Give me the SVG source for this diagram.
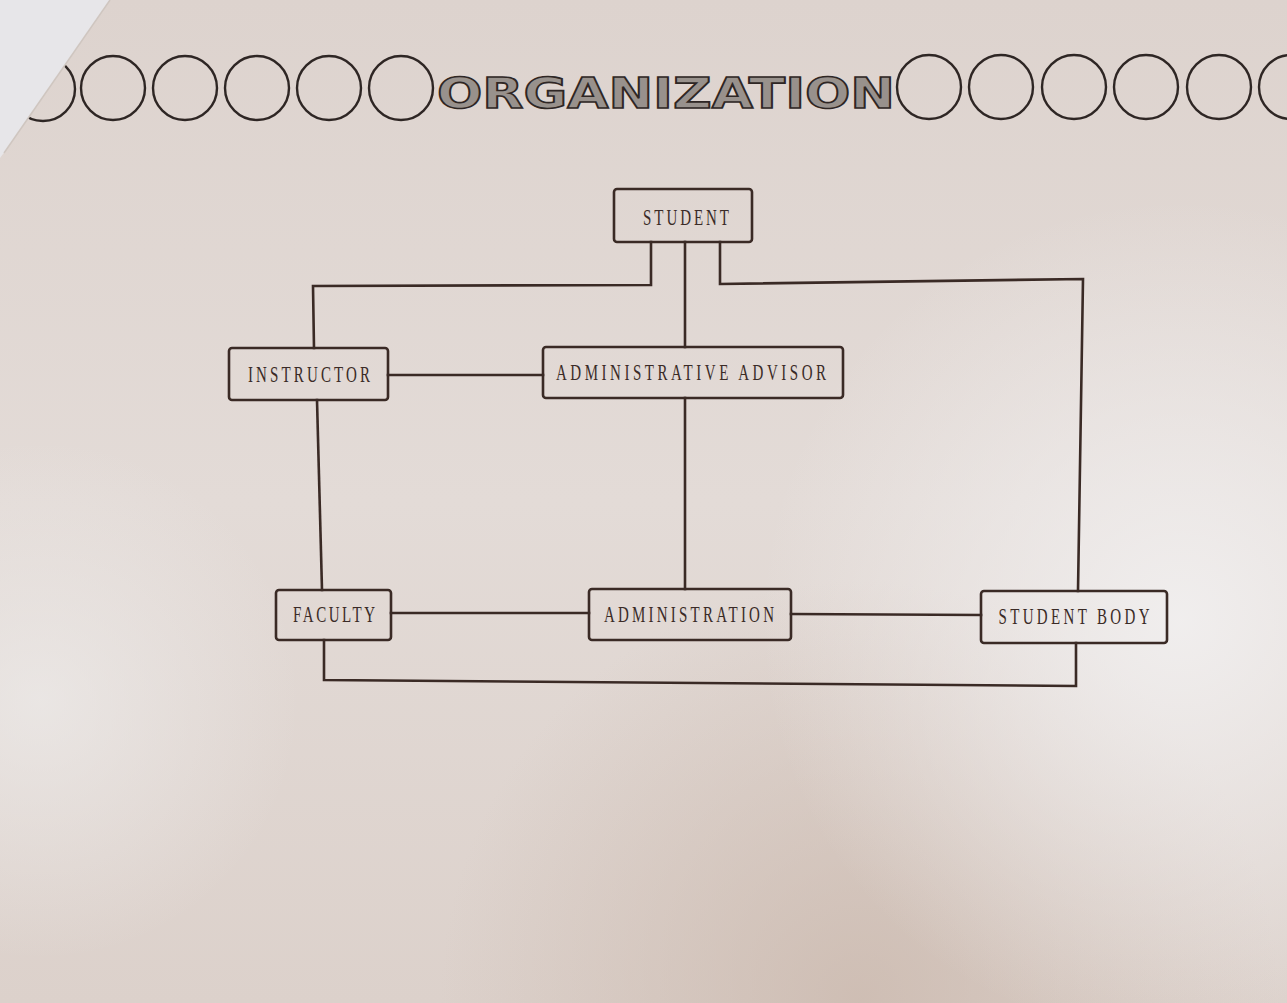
<svg xmlns="http://www.w3.org/2000/svg" width="1287" height="1003" viewBox="0 0 1287 1003">
  <defs>
    <radialGradient id="lightRight" cx="1180" cy="620" r="420" gradientUnits="userSpaceOnUse">
      <stop offset="0" stop-color="#f1efef" stop-opacity="0.95"/>
      <stop offset="1" stop-color="#f1efef" stop-opacity="0"/>
    </radialGradient>
    <radialGradient id="lightLeft" cx="40" cy="700" r="260" gradientUnits="userSpaceOnUse">
      <stop offset="0" stop-color="#eeeceb" stop-opacity="0.7"/>
      <stop offset="1" stop-color="#eeeceb" stop-opacity="0"/>
    </radialGradient>
    <radialGradient id="shadowBottom" cx="860" cy="1000" r="420" gradientUnits="userSpaceOnUse">
      <stop offset="0" stop-color="#cbb9ae" stop-opacity="0.8"/>
      <stop offset="1" stop-color="#cbb9ae" stop-opacity="0"/>
    </radialGradient>
    <linearGradient id="paperTone" x1="0" y1="0" x2="0" y2="1">
      <stop offset="0" stop-color="#ddd3ce"/>
      <stop offset="0.5" stop-color="#e3dbd7"/>
      <stop offset="1" stop-color="#dcd1cb"/>
    </linearGradient>
    <style>
      .ring { fill: none; stroke: #2e2624; stroke-width: 2.4; }
      .box { fill: none; stroke: #3a2a25; stroke-width: 2.6; }
      .label { font-family: "Liberation Serif", "DejaVu Serif", serif; font-size: 20px; fill: #3a2b27; text-anchor: middle; }
      .wire { fill: none; stroke: #3a2a25; stroke-width: 2.6; stroke-linejoin: miter; stroke-linecap: square; }
      .title { font-family: "DejaVu Sans", "Liberation Sans", sans-serif; font-weight: bold; font-size: 43px; fill: #98918c; stroke: #2e2624; stroke-width: 1.6; }
    </style>
  </defs>

  <!-- paper -->
  <rect x="0" y="0" width="1287" height="1003" fill="url(#paperTone)"/>
  <rect x="0" y="0" width="1287" height="1003" fill="url(#shadowBottom)"/>
  <rect x="0" y="0" width="1287" height="1003" fill="url(#lightRight)"/>
  <rect x="0" y="0" width="1287" height="1003" fill="url(#lightLeft)"/>

  <!-- header band: rings and title -->
  <g id="header">
    <circle class="ring" cx="43" cy="89" r="32"/>
    <circle class="ring" cx="113" cy="88" r="32"/>
    <circle class="ring" cx="185" cy="88" r="32"/>
    <circle class="ring" cx="257" cy="88" r="32"/>
    <circle class="ring" cx="329" cy="88" r="32"/>
    <circle class="ring" cx="401" cy="88" r="32"/>
    <text class="title" x="437" y="108" textLength="458" lengthAdjust="spacingAndGlyphs">ORGANIZATION</text>
    <circle class="ring" cx="929" cy="87" r="32"/>
    <circle class="ring" cx="1001" cy="87" r="32"/>
    <circle class="ring" cx="1074" cy="87" r="32"/>
    <circle class="ring" cx="1146" cy="87" r="32"/>
    <circle class="ring" cx="1219" cy="87" r="32"/>
    <circle class="ring" cx="1291" cy="87" r="32"/>
  </g>

  <!-- folded corner of the sheet -->
  <polygon points="0,0 110,0 6,150 0,158" fill="#e7e6e9"/>
  <line x1="110" y1="0" x2="4" y2="153" stroke="#cfc6c0" stroke-width="1.5"/>

  <!-- connectors -->
  <g id="connectors">
    <polyline class="wire" points="651,242 651,285 313,286 314,348"/>
    <polyline class="wire" points="685,242 685,347"/>
    <polyline class="wire" points="720,242 720,284 1083,279 1078,591"/>
    <line class="wire" x1="388" y1="375" x2="543" y2="375"/>
    <line class="wire" x1="317" y1="400" x2="322" y2="590"/>
    <line class="wire" x1="685" y1="398" x2="685" y2="589"/>
    <line class="wire" x1="391" y1="613" x2="589" y2="613"/>
    <line class="wire" x1="791" y1="614" x2="981" y2="615"/>
    <polyline class="wire" points="324,640 324,680 1076,686 1076,643"/>
  </g>

  <!-- nodes: typewriter-style labels, condensed and evenly spaced -->
  <g id="student">
    <rect class="box" x="614" y="189" width="138" height="53" rx="3"/>
    <text class="label" transform="translate(686,225) scale(0.75,1.13)" textLength="114.7" lengthAdjust="spacing">STUDENT</text>
  </g>
  <g id="instructor">
    <rect class="box" x="229" y="348" width="159" height="52" rx="3"/>
    <text class="label" transform="translate(309,382) scale(0.75,1.13)" textLength="162.7" lengthAdjust="spacing">INSTRUCTOR</text>
  </g>
  <g id="administrative-advisor">
    <rect class="box" x="543" y="347" width="300" height="51" rx="3"/>
    <text class="label" transform="translate(691,380) scale(0.75,1.13)" textLength="360" lengthAdjust="spacing">ADMINISTRATIVE ADVISOR</text>
  </g>
  <g id="faculty">
    <rect class="box" x="276" y="590" width="115" height="50" rx="3"/>
    <text class="label" transform="translate(334,622) scale(0.75,1.13)" textLength="109.3" lengthAdjust="spacing">FACULTY</text>
  </g>
  <g id="administration">
    <rect class="box" x="589" y="589" width="202" height="51" rx="3"/>
    <text class="label" transform="translate(689,622) scale(0.75,1.13)" textLength="226.7" lengthAdjust="spacing">ADMINISTRATION</text>
  </g>
  <g id="student-body">
    <rect class="box" x="981" y="591" width="186" height="52" rx="3"/>
    <text class="label" transform="translate(1074,624) scale(0.75,1.13)" textLength="201.3" lengthAdjust="spacing">STUDENT BODY</text>
  </g>
</svg>
